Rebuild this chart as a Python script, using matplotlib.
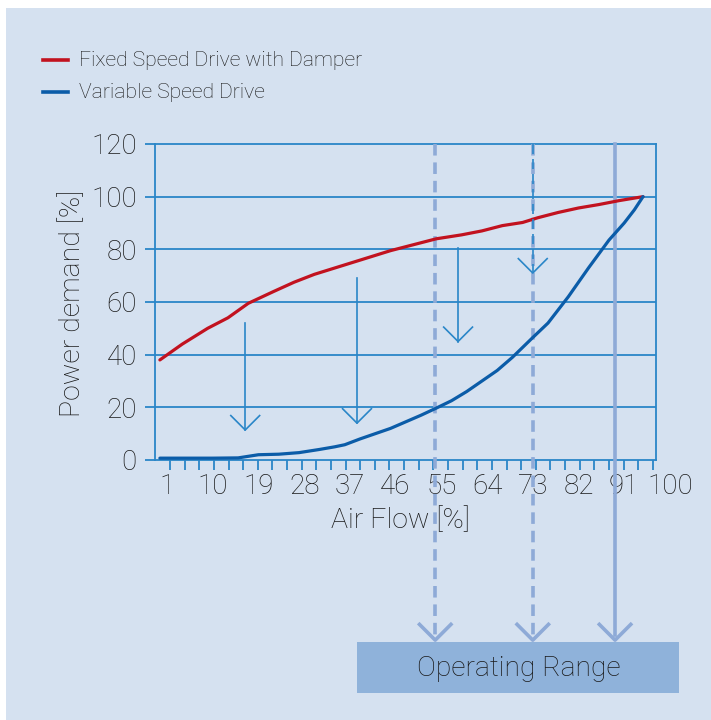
import matplotlib
matplotlib.use("Agg")
import matplotlib.pyplot as plt
from matplotlib.patches import Rectangle
import numpy as np

plt.rcParams['font.family'] = ['Roboto', 'Liberation Sans', 'DejaVu Sans']
plt.rcParams['font.weight'] = 'light'

# curve data
flow_fixed = [-0.4, 4, 9, 13, 17, 22, 26, 30, 35, 40, 45, 50, 54, 59, 63, 67, 71, 74, 78, 82, 86, 90, 94.7]
power_fixed = [38, 44, 50, 54, 59.5, 64, 67.5, 70.5, 73.5, 76.5, 79.5, 82, 84, 85.5, 87, 89, 90.2, 92, 94, 95.7, 97, 98.5, 100]
flow_vsd = [-0.4, 5, 10, 15, 19, 23, 27, 31, 34, 36, 39, 42, 45, 48, 51, 54, 57, 60, 63, 66, 69, 73, 76, 80, 84, 88, 91, 93, 94.7]
power_vsd = [0.7, 0.7, 0.7, 0.8, 2, 2.2, 2.8, 4, 5, 5.8, 8, 10, 12, 14.5, 17, 19.7, 22.5, 26, 30, 34, 39, 46.5, 52, 62, 73, 83.5, 90, 95, 100]

xtick_vals = [1, 10, 19, 28, 37, 46, 55, 64, 73, 82, 91, 100]
ytick_vals = [0, 20, 40, 60, 80, 100, 120]

# saving arrows (from fixed curve down towards vsd curve)
arrow_x = [16.4, 38.4, 58.3, 73]
arrow_top = [52, 69, 80.5, 120]
arrow_tip = [11.4, 14, 45, 71]

# operating range markers
range_x = [53.8, 73, 89.2]
range_style = ['dashed', 'dashed', 'solid']

bg = '#d5e1f0'
grid_blue = '#2a86c8'
red = '#c2121f'
blue = '#0b5ca8'
lav = '#8eaad7'
txt = '#1a1a1a'

fig = plt.figure(figsize=(7.11, 7.20), dpi=100)
fig.patches.append(Rectangle((6 / 711, 0), 1, 1 - 8 / 720, transform=fig.transFigure,
                             facecolor=bg, edgecolor='none', zorder=-5))

ax = fig.add_axes([155 / 711, 1 - 460 / 720, 501 / 711, 316 / 720])
ax.set_zorder(2)
ax.set_facecolor('none')
xmin, xmax = -1.36, 97.26
ax.set_xlim(xmin, xmax)
ax.set_ylim(0, 120)
px_x = 501 / (xmax - xmin)
px_y = 316 / 120

for s in ax.spines.values():
    s.set_color(grid_blue)
    s.set_linewidth(1.3)

ax.set_yticks(ytick_vals)
ax.set_yticklabels([str(v) for v in ytick_vals])
ax.tick_params(axis='y', length=7, width=1.3, color=grid_blue, labelsize=20,
               labelcolor=txt, pad=6)
ax.set_xticks(np.arange(1.6, 97, 2.88))
ax.set_xticklabels([])
ax.tick_params(axis='x', length=7, width=1.3, color=grid_blue)
for v in ytick_vals[1:-1]:
    ax.axhline(v, color=grid_blue, lw=1.3, zorder=1)

for v in xtick_vals:
    ax.text(v, -27 / 316, str(v), transform=ax.get_xaxis_transform(), ha='center',
            va='center', fontsize=20, color=txt, clip_on=False)

ax.text(400 / 711, 1 - 521 / 720, 'Air Flow [%]', transform=fig.transFigure,
        ha='center', va='center', fontsize=20.5, color=txt)
ax.text(73 / 711, 1 - 303 / 720, 'Power demand [%]', transform=fig.transFigure,
        ha='center', va='center', fontsize=20.5, color=txt, rotation=90)


def v_head(x, y, half_w, length, color, lw, z):
    ax.plot([x - half_w / px_x, x, x + half_w / px_x],
            [y + length / px_y, y, y + length / px_y],
            color=color, lw=lw, clip_on=False, solid_capstyle='butt', zorder=z)


# operating range lines running below the axes
bottom_y = -68.4
for x, ls in zip(range_x, range_style):
    if ls == 'dashed':
        ax.plot([x, x], [120, bottom_y + 2], color=lav, lw=2.6, ls=(0, (3.2, 1.9)),
                clip_on=False, zorder=3)
    else:
        ax.plot([x, x], [120, bottom_y + 2], color=lav, lw=2.6, clip_on=False, zorder=3)
    v_head(x, bottom_y, 17, 17, lav, 2.6, 3)

ax.plot(flow_fixed, power_fixed, color=red, lw=2.3, zorder=5, solid_capstyle='round')
ax.plot(flow_vsd, power_vsd, color=blue, lw=2.3, zorder=5, solid_capstyle='round')

for x, y0, y1 in zip(arrow_x, arrow_top, arrow_tip):
    ls = (0, (6, 3)) if y0 >= 120 else 'solid'
    ax.plot([x, x], [y0, y1], color=grid_blue, lw=1.2, ls=ls, zorder=6)
    v_head(x, y1, 15, 15, grid_blue, 1.2, 6)

# operating range box
fig.patches.append(Rectangle((357 / 711, 1 - 693 / 720), 322 / 711, 51 / 720,
                             transform=fig.transFigure, facecolor='#8fb2da',
                             edgecolor='none', zorder=1))
fig.text(519 / 711, 1 - 668 / 720, 'Operating Range', ha='center', va='center',
         fontsize=20.3, color=txt)

# legend
leg_items = [('Fixed Speed Drive with Damper', red, 60), ('Variable Speed Drive', blue, 92)]
for label, c, ypx in leg_items:
    fig.add_artist(plt.Line2D([43 / 711, 68 / 711], [1 - ypx / 720] * 2,
                              transform=fig.transFigure, color=c, lw=2.6))
    fig.text(79 / 711, 1 - ypx / 720, label, ha='left', va='center', fontsize=15.2,
             color=txt)

fig.savefig('out.png', dpi=100)
